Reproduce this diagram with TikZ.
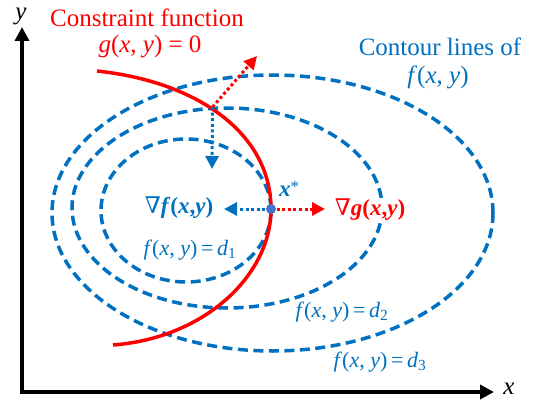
\documentclass[tikz,border=0pt]{standalone}
\usepackage{fontspec}
\IfFontExistsTF{LiberationSerif-Regular.ttf}{%
  \setmainfont{LiberationSerif}[Extension=.ttf,UprightFont=*-Regular,ItalicFont=*-Italic,BoldFont=*-Bold,BoldItalicFont=*-BoldItalic]}{%
  \setmainfont{Liberation Serif}}
\newfontfamily\nablafont{DejaVu Serif}
\usetikzlibrary{arrows.meta}
\definecolor{cblue}{RGB}{0,112,192}
\definecolor{cred}{RGB}{255,0,0}
\definecolor{cdot}{RGB}{68,114,196}
\newcommand{\bi}[1]{\textbf{\textit{#1}}}
\begin{document}
\begin{tikzpicture}[x=1pt,y=-1pt,
  contour/.style={draw=cblue, line width=3.5pt, dash pattern=on 10pt off 5.5pt},
  dotarrow/.style={line width=3pt, dash pattern=on 3pt off 2.6pt, -{Triangle[length=13pt,width=13pt]}},
  axisline/.style={line width=3.5pt, line join=miter, {Triangle[length=14pt,width=14pt]}-{Triangle[length=14pt,width=14pt]}},
  lbl/.style={inner sep=0pt, font=\fontsize{25}{28}\selectfont},
  mlbl/.style={inner sep=0pt, font=\fontsize{22}{26}\selectfont},
  glbl/.style={inner sep=0pt, font=\fontsize{23}{27}\selectfont}]
\useasboundingbox (0,0) rectangle (546,412);
% axes
\coordinate (ytip) at (22,27);
\coordinate (orig) at (22,392);
\coordinate (xtip) at (494,392);
\draw[axisline] (ytip) -- (orig) -- (xtip);
\node[lbl] (ylab) at (21,16) {\textit{y}};
\node[lbl] (xlab) at (509,389) {\textit{x}};
% contour lines
\draw[contour] (186,210.5) ellipse [x radius=85, y radius=71.5];
\draw[contour] (227,208) ellipse [x radius=155, y radius=100];
\draw[contour] (272.5,213) ellipse [x radius=220.5, y radius=138];
% constraint curve
\coordinate (rs) at (97,71);
\coordinate (xs) at (271,209);
\coordinate (re) at (113,345);
\draw[cred, line width=3.5pt] (rs) .. controls (200,82) and (271,135) .. (xs)
  .. controls (271,275) and (205,338) .. (re);
% gradient arrows
\coordinate (p) at (212.5,107);
\coordinate (pt) at (257,56);
\coordinate (pd) at (212,169);
\coordinate (gt) at (325,209);
\coordinate (ft) at (224,209);
\draw[dotarrow, cred] (p) -- (pt);
\draw[dotarrow, cblue] (p) -- (pd);
\draw[dotarrow, cred] (xs) -- (gt);
\draw[dotarrow, cblue] (xs) -- (ft);
\node[circle, fill=cdot, minimum size=10pt, inner sep=0pt] (xstar) at (xs) {};
% labels
\node[lbl, text=cred] (cf) at (147,18) {Constraint function};
\node[lbl, text=cred] (g0) at (150,47) {\textit{g}(\textit{x}, \textit{y}) = 0};
\node[lbl, text=cblue] (cl) at (440,47) {Contour lines of};
\node[lbl, text=cblue] (fxy) at (438,77) {\textit{f}(\textit{x}, \textit{y})};
\node[glbl, text=cblue] (gf) at (179,208) {{\nablafont ∇}\bi{f}\textbf{(}\bi{x}\textbf{,}\bi{y}\textbf{)}};
\node[glbl, text=cred, fill=white, inner sep=1pt] (gg) at (370,210) {{\nablafont ∇}\bi{g}\textbf{(}\bi{x}\textbf{,}\bi{y}\textbf{)}};
\node[glbl, text=cblue] (xsl) at (289,189) {\bi{x}\raisebox{0.45ex}{\fontsize{17}{17}\selectfont *}};
\node[mlbl, text=cblue] (d1) at (190,250) {\textit{f}(\textit{x}, \textit{y})\,=\,\textit{d}\textsubscript{1}};
\node[mlbl, text=cblue] (d2) at (342,312) {\textit{f}(\textit{x}, \textit{y})\,=\,\textit{d}\textsubscript{2}};
\node[mlbl, text=cblue] (d3) at (380,362) {\textit{f}(\textit{x}, \textit{y})\,=\,\textit{d}\textsubscript{3}};
\end{tikzpicture}
\end{document}
